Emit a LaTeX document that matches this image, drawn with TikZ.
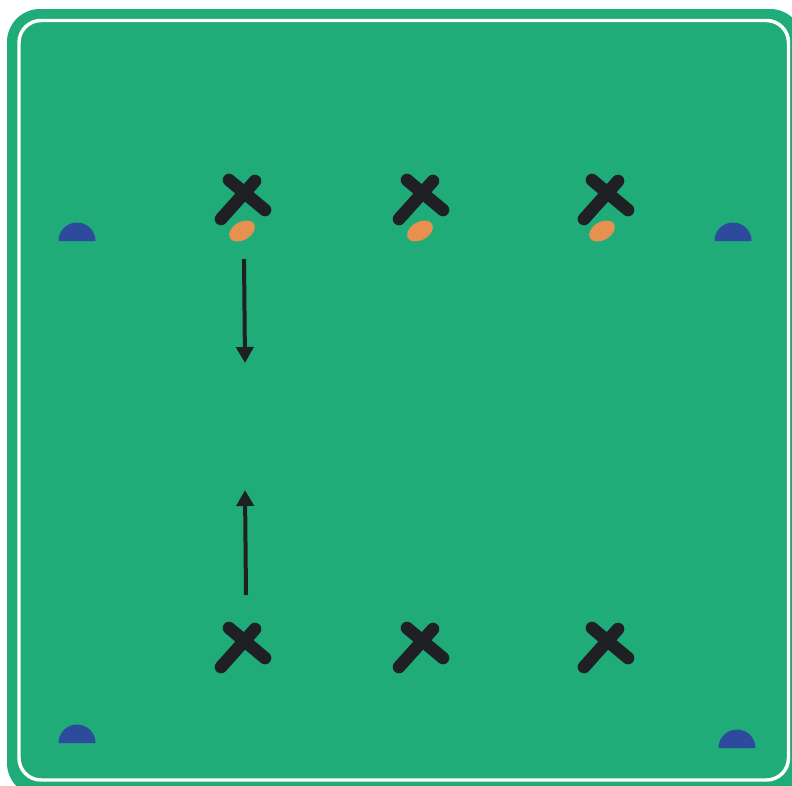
\documentclass[tikz,border=0pt]{standalone}
\usetikzlibrary{arrows.meta}
\definecolor{pitch}{HTML}{1FAC78}
\definecolor{conecol}{HTML}{2D4A9C}
\definecolor{playercol}{HTML}{1F2024}
\definecolor{ballcol}{HTML}{E8904F}
\tikzset{
  xstroke/.style={draw=playercol, line width=9.5pt, line cap=round},
  cone/.style={fill=conecol},
  ball/.style={fill=ballcol},
  runarrow/.style={draw=playercol, line width=3pt, -{Triangle[width=12.75pt,length=12pt]}},
  pics/player/.style={code={
    \draw[xstroke] (-13,-17) -- (23,13);
    \draw[xstroke] (-21,22) -- (13,-16);
  }}
}
\begin{document}
\begin{tikzpicture}[x=0.75pt,y=-0.75pt]
\useasboundingbox (0,0) rectangle (792,785);
\clip (0,0) rectangle (792,785);
\fill[white] (0,0) rectangle (792,785);
% pitch
\fill[pitch, rounded corners=24.75pt] (7,9) rectangle (803,796);
\draw[white, line width=2.6pt, rounded corners=16.5pt] (19,20.5) rectangle (788.5,780);
% cones
\fill[cone] (58.5,241) arc[start angle=180,end angle=360,radius=18.5] -- cycle;
\fill[cone] (714.5,241) arc[start angle=180,end angle=360,radius=18.5] -- cycle;
\fill[cone] (58.5,743) arc[start angle=180,end angle=360,radius=18.5] -- cycle;
\fill[cone] (718.5,748) arc[start angle=180,end angle=360,radius=18.5] -- cycle;
% players top
\pic at (242,197) {player};
\pic at (420,197) {player};
\pic at (605,197) {player};
% balls
\fill[ball, rotate around={30:(242,231)}] (242,231) ellipse [x radius=14, y radius=9];
\fill[ball, rotate around={30:(420,231)}] (420,231) ellipse [x radius=14, y radius=9];
\fill[ball, rotate around={30:(602,231)}] (602,231) ellipse [x radius=14, y radius=9];
% players bottom
\pic at (242,645) {player};
\pic at (420,645) {player};
\pic at (605,645) {player};
% arrows
\coordinate (a1s) at (244,259);
\coordinate (a1e) at (245,363);
\coordinate (a2s) at (246,595);
\coordinate (a2e) at (245,490);
\draw[runarrow] (a1s) -- (a1e);
\draw[runarrow] (a2s) -- (a2e);
\end{tikzpicture}
\end{document}
